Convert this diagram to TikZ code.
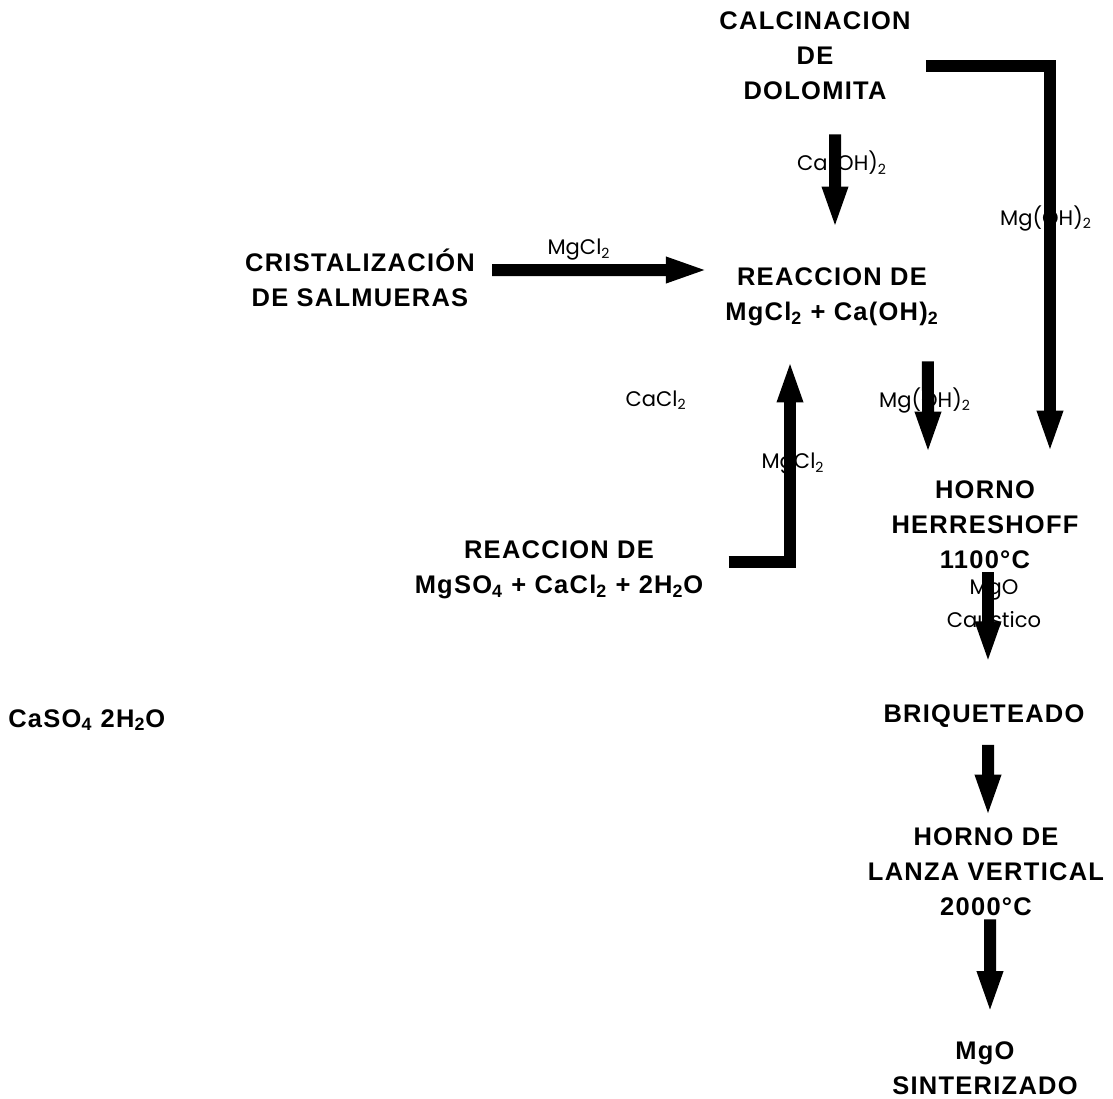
\documentclass[tikz,border=0pt]{standalone}
\usepackage{fontspec}
\setmainfont{Liberation Sans}
\newfontfamily\stagefont[LetterSpace=5]{Liberation Sans}
\newfontfamily\chemfont{Poppins}
\usetikzlibrary{arrows.meta}

\begin{document}
\begin{tikzpicture}[x=0.02cm, y=-0.02cm,
  stage/.style={font=\stagefont\bfseries\fontsize{14.5}{19.9}\selectfont, align=center, inner sep=0pt},
  chem/.style={font=\chemfont\fontsize{12}{14}\selectfont, inner sep=0pt},
  flow/.style={line width=0.24cm, -{Triangle[length=0.86cm,width=0.46cm]}}]

\useasboundingbox (0,0) rectangle (1113,1099);

% --------- Process stages ----------
\node[stage] (dolo) at (815,56)  {CALCINACION\\DE\\DOLOMITA};
\node[stage] (cris) at (360,278) {CRISTALIZACIÓN\\DE SALMUERAS};
\node[stage] (reac) at (832,297) {REACCION DE\\MgCl\textsubscript{2} + Ca(OH)\textsubscript{2}};
\node[stage] (sulf) at (559,570) {REACCION DE\\MgSO\textsubscript{4} + CaCl\textsubscript{2} + 2H\textsubscript{2}O};
\node[stage] (horn) at (985,525) {HORNO\\HERRESHOFF\\1100°C};
\node[stage] (briq) at (984,716) {BRIQUETEADO};
\node[stage] (lanz) at (986,872) {HORNO DE\\LANZA VERTICAL\\2000°C};
\node[stage] (mgo)  at (985,1068) {MgO\\SINTERIZADO};
\node[stage, anchor=west] (caso) at (8,720) {CaSO\textsubscript{4} 2H\textsubscript{2}O};

% --------- Stream labels (under the arrows) ----------
\node[chem] (lcaoh)  at (842,163)  {Ca(OH)\textsubscript{2}};
\node[chem] (lmgoh)  at (1046,218) {Mg(OH)\textsubscript{2}};
\node[chem] (lmgcl)  at (579,250)  {MgCl\textsubscript{2}};
\node[chem] (lcacl)  at (656,400)  {CaCl\textsubscript{2}};
\node[chem] (lmgcl2) at (793,464)  {MgCl\textsubscript{2}};
\node[chem] (lmgoh2) at (925,400)  {Mg(OH)\textsubscript{2}};
\node[chem] (lmgo)   at (994,590)  {MgO};
\node[chem] (lcaus)  at (994,620)  {Caustico};

% --------- Flows ----------
\draw[flow] ([xshift=0.3cm,yshift=-0.2cm]dolo.east) -| ([xshift=1.3cm,yshift=0.54cm]horn.north);
\draw[flow] ([xshift=0.4cm,yshift=-0.68cm]dolo.south) -- ([xshift=0.06cm,yshift=0.76cm]reac.north);
\draw[flow] ([xshift=0.34cm,yshift=0.16cm]cris.east) -- ([xshift=-0.32cm,yshift=0.54cm]reac.west);
\draw[flow] ([xshift=0.5cm,yshift=0.16cm]sulf.east) -| ([xshift=-0.84cm,yshift=-0.66cm]reac.south);
\draw[flow] ([xshift=1.92cm,yshift=-0.7cm]reac.south) -- ([xshift=-1.14cm,yshift=0.52cm]horn.north);
\draw[flow] ([xshift=0.06cm,yshift=-0.06cm]horn.south) -- ([xshift=0.08cm,yshift=0.8cm]briq.north);
\draw[flow] ([xshift=0.08cm,yshift=-0.34cm]briq.south) -- ([xshift=0.04cm,yshift=0.2cm]lanz.north);
\draw[flow] ([xshift=0.08cm,yshift=-0.06cm]lanz.south) -- ([xshift=0.1cm,yshift=0.54cm]mgo.north);

\end{tikzpicture}
\end{document}
